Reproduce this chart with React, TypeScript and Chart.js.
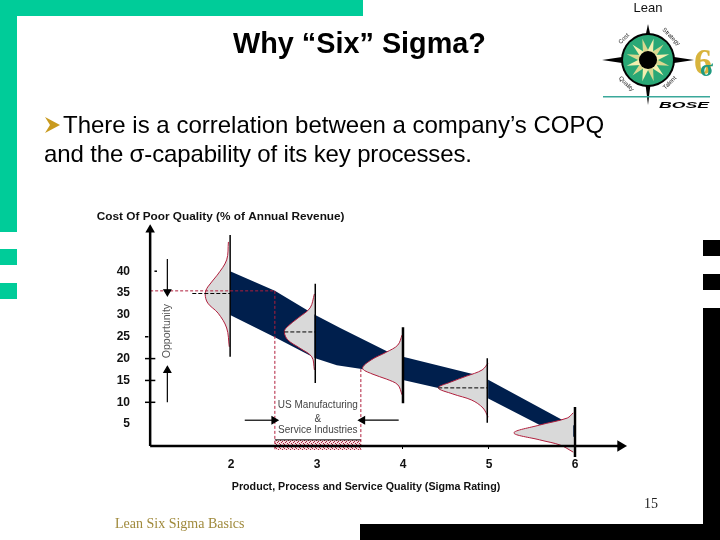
import { useEffect, useRef } from 'react';
import { Chart, registerables } from 'chart.js';

Chart.register(...registerables);

// ticks
const xTicks = [2, 3, 4, 5, 6];
const yTicks = [5, 10, 15, 20, 25, 30, 35, 40];

// cost of poor quality band, read left to right
const bandUpperX = [1.99, 2.51, 2.98, 3.27, 3.83, 4.0, 4.81, 4.98, 5.86, 6.0];
const bandUpperY = [40.0, 35.5, 30.0, 27.0, 21.5, 20.4, 16.5, 15.3, 5.9, 4.6];
const bandLowerX = [1.99, 2.51, 2.98, 3.23, 3.52, 4.0, 4.41, 4.98, 5.59, 6.0];
const bandLowerY = [30.0, 24.9, 20.1, 18.5, 17.6, 15.1, 13.3, 11.0, 4.8, 2.0];

// distribution curves at each sigma level
const curve2X = [1.97, 1.95, 1.84, 1.73, 1.7, 1.73, 1.85, 1.95, 1.98];
const curve2Y = [46.7, 42.6, 39.1, 36.4, 34.8, 32.7, 30.4, 27.0, 22.7];
const curve3X = [2.97, 2.92, 2.78, 2.65, 2.62, 2.66, 2.8, 2.94, 2.97];
const curve3Y = [34.8, 31.6, 29.3, 27.2, 26.1, 24.3, 22.4, 20.4, 17.4];
const curve4X = [3.99, 3.94, 3.81, 3.63, 3.53, 3.64, 3.81, 3.94, 3.99];
const curve4Y = [25.4, 23.1, 21.5, 19.7, 17.8, 16.5, 15.3, 14.0, 11.7];
const curve5X = [4.99, 4.92, 4.74, 4.55, 4.41, 4.58, 4.8, 4.93, 4.99];
const curve5Y = [19.0, 17.4, 16.0, 14.6, 13.3, 11.9, 10.5, 8.7, 6.6];
const curve6X = [5.98, 5.91, 5.59, 5.29, 5.59, 5.83, 5.98];
const curve6Y = [7.6, 6.4, 4.8, 3.0, 1.4, 0.2, -1.4];

const pts = (xs: number[], ys: number[]) => xs.map((x, i) => ({ x, y: ys[i] }));

const NAVY = '#001f4d';
const GREY = '#d9d9d9';
const RED = '#b01e3c';

function curve(xs: number[], ys: number[]) {
  return {
    data: pts(xs, ys),
    showLine: true,
    fill: 'shape',
    backgroundColor: GREY,
    borderColor: RED,
    borderWidth: 1,
    pointRadius: 0,
    tension: 0.35,
    clip: false,
  };
}

function seg(x0: number, y0: number, x1: number, y1: number, color = '#000', width = 1.5, dash: number[] = []) {
  return {
    data: [{ x: x0, y: y0 }, { x: x1, y: y1 }],
    showLine: true,
    borderColor: color,
    borderWidth: width,
    borderDash: dash,
    pointRadius: 0,
    clip: false,
  };
}

function arrow(x0: number, y0: number, x1: number, y1: number, rot: number, width = 1.2, head = 4) {
  return {
    ...seg(x0, y0, x1, y1, '#000', width),
    pointRadius: [0, head],
    pointStyle: 'triangle',
    pointRotation: [0, rot],
    pointBackgroundColor: '#000',
    pointBorderColor: '#000',
  };
}

function hatchPattern() {
  const c = document.createElement('canvas');
  c.width = 4;
  c.height = 4;
  const g = c.getContext('2d')!;
  g.fillStyle = '#f8dfe0';
  g.fillRect(0, 0, 4, 4);
  g.fillStyle = '#a8203c';
  g.fillRect(0, 0, 1, 1);
  g.fillRect(2, 1, 1, 1);
  g.fillRect(1, 2, 1, 1);
  g.fillRect(3, 3, 1, 1);
  return g.createPattern(c, 'repeat')!;
}

// axis titles and the notes inside the plot
const chartText = {
  id: 'chartText',
  afterDraw(chart: any) {
    const { ctx, scales } = chart;
    const put = (s: string, x: number, y: number, font: string, color: string, rot = 0) => {
      ctx.save();
      ctx.translate(scales.x.getPixelForValue(x), scales.y.getPixelForValue(y));
      ctx.rotate(rot);
      ctx.font = font;
      ctx.fillStyle = color;
      ctx.textAlign = 'center';
      ctx.textBaseline = 'middle';
      ctx.fillText(s, 0, 0);
      ctx.restore();
    };
    const note = '10px "Liberation Sans"';
    put('Cost Of Poor Quality (% of Annual Revenue)', 1.88, 52.4, 'bold 11.8px "Liberation Sans"', '#111');
    put('Product, Process and Service Quality (Sigma Rating)', 3.57, -9.4, 'bold 10.7px "Liberation Sans"', '#111');
    put('Opportunity', 1.26, 26.3, '10.5px "Liberation Sans"', '#555', -Math.PI / 2);
    put('US Manufacturing', 3.01, 9.4, note, '#444');
    put('&', 3.01, 6.2, note, '#444');
    put('Service Industries', 3.01, 3.5, note, '#444');
  },
};

function Logo() {
  const rays = [0, 30, 60, 90, 120, 150, 180, 210, 240, 270, 300, 330];
  return (
    <svg width="130" height="120" style={{ position: 'absolute', left: 590, top: 0 }}>
      <text x="58" y="12" textAnchor="middle" fontFamily="Liberation Sans" fontSize="13" fill="#111">Lean</text>
      <polygon points="58,24 54,43 62,43" fill="#000" />
      <polygon points="58,105 55,80 61,80" fill="#000" />
      <polygon points="12,60 32,57 32,63" fill="#000" />
      <polygon points="104,60 84,57 84,63" fill="#000" />
      <circle cx="58" cy="60" r="27" fill="#000" />
      <circle cx="58" cy="60" r="25" fill="#2aa876" />
      {rays.map((a) => (
        <polygon key={a} points="58,38 55,52 61,52" fill={a % 60 === 0 ? '#f4efb0' : '#d9d890'} transform={`rotate(${a + 15} 58 60)`} />
      ))}
      <circle cx="58" cy="60" r="9" fill="#000" />
      <text x="35" y="40" fontFamily="Liberation Sans" fontSize="6" fill="#222" textAnchor="middle" transform="rotate(-45 35 40)">Cost</text>
      <text x="80" y="38" fontFamily="Liberation Sans" fontSize="6" fill="#222" textAnchor="middle" transform="rotate(45 80 38)">Strategy</text>
      <text x="35" y="85" fontFamily="Liberation Sans" fontSize="6" fill="#222" textAnchor="middle" transform="rotate(45 35 85)">Quality</text>
      <text x="81" y="84" fontFamily="Liberation Sans" fontSize="6" fill="#222" textAnchor="middle" transform="rotate(-45 81 84)">Talent</text>
      <text x="104" y="74" fontFamily="Liberation Serif" fontWeight="bold" fontSize="36" fill="#d8b43c">6</text>
      <text x="110" y="76" fontFamily="Liberation Serif" fontWeight="bold" fontSize="24" fill="#1f9a80">σ</text>
      <rect x="13" y="96" width="107" height="1.5" fill="#3aa89a" />
      <text x="94" y="108" textAnchor="middle" textLength="50" lengthAdjust="spacingAndGlyphs" fontFamily="Liberation Sans" fontWeight="bold" fontStyle="italic" fontSize="9" fill="#000">BOSE</text>
    </svg>
  );
}

const box = (left: number, top: number, width: number, height: number, background: string) => (
  <div style={{ position: 'absolute', left, top, width, height, background }} />
);

export default function App() {
  const canvasRef = useRef<HTMLCanvasElement>(null);

  useEffect(() => {
    if (!canvasRef.current) return;
    const chart = new Chart(canvasRef.current, {
      type: 'scatter',
      data: {
        datasets: [
          // first dataset ends up on top
          arrow(1.06, 0, 6.53, 0, 90, 2.5, 4),
          arrow(1.06, 0, 1.06, 49.5, 0, 2.5, 3),
          seg(1.0, 10, 1.12, 10),
          seg(1.0, 15, 1.12, 15),
          seg(1.0, 20, 1.12, 20),
          seg(1.0, 25, 1.04, 25),
          seg(1.11, 40, 1.14, 40),
          arrow(1.26, 42.8, 1.26, 35.3, 180),
          arrow(1.26, 10, 1.26, 17.3, 0),
          arrow(2.16, 5.9, 2.5, 5.9, 90),
          arrow(3.95, 5.9, 3.53, 5.9, 270),
          seg(1.06, 35.5, 2.51, 35.5, RED, 1, [3, 2]),
          seg(2.51, 35.5, 2.51, -0.9, RED, 1, [3, 2]),
          seg(3.51, 17.6, 3.51, -0.9, RED, 1, [3, 2]),
          seg(2.51, 1.4, 3.51, 1.4, '#000', 1),
          seg(1.55, 34.9, 1.99, 34.9, '#000', 1, [4, 2]),
          seg(2.62, 26.1, 2.98, 26.1, '#000', 1, [4, 2]),
          seg(4.41, 13.3, 4.98, 13.3, '#000', 1, [4, 2]),
          seg(1.99, 48.3, 1.99, 20.4),
          seg(2.98, 37.1, 2.98, 14.4),
          seg(4.0, 27.2, 4.0, 9.8, '#000', 2.5),
          seg(4.98, 20.1, 4.98, 5.3),
          seg(6.0, 8.9, 6.0, -2.5, '#000', 2.5),
          curve(curve2X, curve2Y),
          curve(curve3X, curve3Y),
          curve(curve4X, curve4Y),
          curve(curve5X, curve5Y),
          curve(curve6X, curve6Y),
          {
            data: pts([2.51, 3.51, 3.51, 2.51], [1.4, 1.4, -0.9, -0.9]),
            showLine: true,
            fill: 'shape',
            backgroundColor: hatchPattern(),
            borderWidth: 0,
            pointRadius: 0,
            clip: false,
          },
          {
            data: [...pts(bandUpperX, bandUpperY), ...pts(bandLowerX, bandLowerY).reverse()],
            showLine: true,
            fill: 'shape',
            backgroundColor: NAVY,
            borderColor: NAVY,
            borderWidth: 0,
            pointRadius: 0,
          },
        ] as any,
      },
      options: {
        responsive: false,
        animation: false,
        layout: { padding: { left: 90, right: 80, top: 220, bottom: 85 } },
        plugins: { legend: { display: false }, tooltip: { enabled: false } },
        scales: {
          x: {
            type: 'linear',
            min: 0.942,
            max: 6.756,
            position: { y: 0 } as any,
            afterBuildTicks: (s: any) => { s.ticks = xTicks.map((value) => ({ value })); },
            grid: {
              drawOnChartArea: false,
              tickLength: 3,
              tickColor: (c: any) => (c.tick && (c.tick.value === 4 || c.tick.value === 5) ? '#000' : 'transparent'),
            },
            border: { display: false },
            ticks: {
              padding: 8,
              maxRotation: 0,
              color: '#111',
              font: { family: 'Liberation Sans', size: 12, weight: 'bold' },
              callback: (v: any) => String(v),
            },
          },
          y: {
            type: 'linear',
            min: -2.059,
            max: 51.716,
            position: 'left',
            afterFit: (s: any) => { s.width = 50; },
            afterBuildTicks: (s: any) => { s.ticks = yTicks.map((value) => ({ value })); },
            grid: { display: false },
            border: { display: false },
            ticks: {
              padding: 2,
              color: '#111',
              font: { family: 'Liberation Sans', size: 12, weight: 'bold' },
              callback: (v: any) => String(v),
            },
          },
        },
      },
      plugins: [chartText],
    });
    return () => chart.destroy();
  }, []);

  const sans = '"Liberation Sans", Arial, sans-serif';
  return (
    <div style={{ position: 'absolute', left: 0, top: 0, width: 720, height: 540, background: '#fff', overflow: 'hidden' }}>
      {box(0, 0, 363, 16, '#00cc99')}
      {box(0, 0, 17, 232, '#00cc99')}
      {box(0, 249, 17, 16, '#00cc99')}
      {box(0, 283, 17, 16, '#00cc99')}
      {box(703, 240, 17, 16, '#000')}
      {box(703, 274, 17, 16, '#000')}
      {box(703, 308, 17, 232, '#000')}
      {box(360, 524, 360, 16, '#000')}
      <canvas ref={canvasRef} width={720} height={540} style={{ position: 'absolute', left: 0, top: 0 }} />
      <div style={{ position: 'absolute', left: 0, top: 27, width: 719, textAlign: 'center', fontFamily: sans, fontWeight: 'bold', fontSize: 28.8, lineHeight: '32px', color: '#000' }}>
        Why “Six” Sigma?
      </div>
      <svg width="18" height="18" style={{ position: 'absolute', left: 44, top: 116 }}>
        <polygon points="1,1 16,9 1,17 6,9" fill="#c89a1e" />
      </svg>
      <div style={{ position: 'absolute', left: 63, top: 110, fontFamily: sans, fontSize: 24, lineHeight: '30px', whiteSpace: 'nowrap', color: '#000' }}>
        There is a correlation between a company’s COPQ
      </div>
      <div style={{ position: 'absolute', left: 44, top: 139, fontFamily: sans, fontSize: 24, letterSpacing: -0.14, lineHeight: '30px', whiteSpace: 'nowrap', color: '#000' }}>
        and the σ-capability of its key processes.
      </div>
      <div style={{ position: 'absolute', left: 644, top: 496, fontFamily: '"Liberation Serif", serif', fontSize: 14, color: '#222' }}>15</div>
      <div style={{ position: 'absolute', left: 115, top: 516, fontFamily: '"Liberation Serif", serif', fontSize: 14, color: '#a08a3c' }}>Lean Six Sigma Basics</div>
      <Logo />
    </div>
  );
}
